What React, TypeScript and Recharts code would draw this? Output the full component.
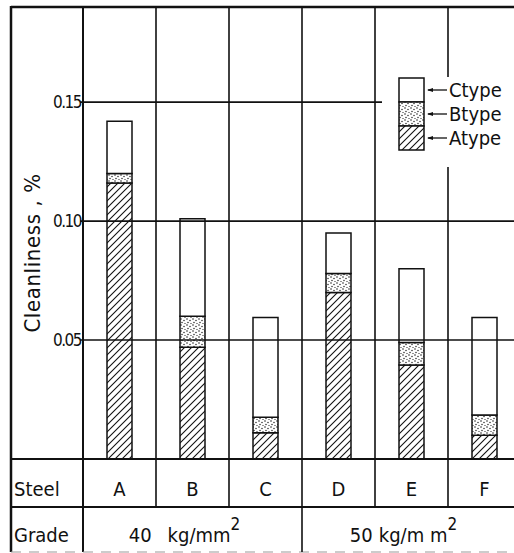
import React from 'react';
import { BarChart, Bar, XAxis, YAxis, Legend } from 'recharts';

// ---- data ----
const steels = ['A', 'B', 'C', 'D', 'E', 'F'];
const aType = [0.116, 0.047, 0.011, 0.070, 0.0395, 0.010];
const bType = [0.004, 0.013, 0.0065, 0.008, 0.0095, 0.0085];
const cType = [0.022, 0.041, 0.042, 0.017, 0.031, 0.041];
const yTicks = [0.05, 0.1, 0.15];
const gradeGroups = [
  { value: '40', unit: 'kg/mm', from: 0, to: 2 },
  { value: '50', unit: 'kg/m m', from: 3, to: 5 },
];
const seriesNames = ['Atype', 'Btype', 'Ctype'];

const data = steels.map((s, i) => ({ steel: s, a: aType[i], b: bType[i], c: cType[i] }));

// ---- layout constants ----
const CHART_W = 521;
const CHART_H = 553;
const MARGIN = { top: 7, right: 0, bottom: 0, left: 0 };
const Y_AXIS_W = 83;
const X_AXIS_H = 94;
const PLOT_LEFT = MARGIN.left + Y_AXIS_W;
const PLOT_TOP = MARGIN.top;
const PLOT_BOTTOM = CHART_H - MARGIN.bottom - X_AXIS_H;
const COL_W = (CHART_W - PLOT_LEFT - MARGIN.right) / steels.length;
const ROW1_BOTTOM = PLOT_BOTTOM + 48;
const TABLE_BOTTOM = CHART_H - 1;
const FRAME_LEFT = 11;
const FONT = "'DejaVu Sans Condensed', 'DejaVu Sans', sans-serif";
const INK = '#111';

const SteelTick = (props: any) => {
  const { x, index, payload } = props;
  const half = COL_W / 2;
  const right = x + half;
  const isLast = index === steels.length - 1;
  const groupEnd = gradeGroups.some((g) => g.to === index) && !isLast;
  const groupStart = gradeGroups.find((g) => g.from === index);
  const legendGap = index === 4;
  return (
    <g>
      <text x={x} y={PLOT_BOTTOM + 37} textAnchor="middle" fontSize={20} fontFamily={FONT} fill={INK}>
        {payload.value}
      </text>
      {!isLast && !legendGap && (
        <line x1={right} x2={right} y1={PLOT_TOP} y2={groupEnd ? TABLE_BOTTOM : ROW1_BOTTOM} stroke={INK} strokeWidth={1.6} />
      )}
      {legendGap && (
        <g>
          <line x1={right} x2={right} y1={PLOT_TOP} y2={77} stroke={INK} strokeWidth={1.6} />
          <line x1={right} x2={right} y1={167} y2={ROW1_BOTTOM} stroke={INK} strokeWidth={1.6} />
        </g>
      )}
      {groupStart && (
        <text
          x={x - half + ((groupStart.to - groupStart.from + 1) * COL_W) / 2 - 8}
          y={ROW1_BOTTOM + 35}
          textAnchor="middle"
          fontSize={20}
          fontFamily={FONT}
          fill={INK}
        >
          {groupStart.value}
          <tspan dx={groupStart.from === 0 ? 16 : 6}>{groupStart.unit}</tspan>
          <tspan dy={-12} fontSize={17}>2</tspan>
        </text>
      )}
      {index === 0 && (
        <g>
          <line x1={FRAME_LEFT} x2={FRAME_LEFT} y1={PLOT_TOP - 1} y2={TABLE_BOTTOM} stroke={INK} strokeWidth={2.5} />
          <line x1={FRAME_LEFT} x2={CHART_W} y1={PLOT_TOP} y2={PLOT_TOP} stroke={INK} strokeWidth={2.5} />
          <line x1={FRAME_LEFT} x2={CHART_W} y1={PLOT_BOTTOM} y2={PLOT_BOTTOM} stroke={INK} strokeWidth={1.8} />
          <line x1={FRAME_LEFT} x2={CHART_W} y1={ROW1_BOTTOM} y2={ROW1_BOTTOM} stroke={INK} strokeWidth={1.8} />
          <line x1={PLOT_LEFT} x2={PLOT_LEFT} y1={PLOT_BOTTOM} y2={TABLE_BOTTOM} stroke={INK} strokeWidth={2} />
          <line x1={FRAME_LEFT} x2={CHART_W} y1={TABLE_BOTTOM} y2={TABLE_BOTTOM} stroke="#999" strokeWidth={1} strokeDasharray="10 8" />
          <text x={FRAME_LEFT + 3} y={PLOT_BOTTOM + 37} fontSize={20} fontFamily={FONT} fill={INK}>Steel</text>
          <text x={FRAME_LEFT + 3} y={ROW1_BOTTOM + 35} fontSize={20} fontFamily={FONT} fill={INK}>Grade</text>
        </g>
      )}
    </g>
  );
};

const YTick = (props: any) => {
  const { y, payload, index } = props;
  const isTop = index === yTicks.length - 1;
  return (
    <g>
      <line x1={PLOT_LEFT - 3} x2={isTop ? PLOT_LEFT + 4 * COL_W + 7 : CHART_W} y1={y} y2={y} stroke={INK} strokeWidth={1.6} />
      <text x={PLOT_LEFT - 2} y={y + 6} textAnchor="end" fontSize={17} letterSpacing={-1.5} fontFamily={FONT} fill={INK}>
        {payload.value.toFixed(2)}
      </text>
    </g>
  );
};

const YLabel = () => (
  <text
    x={32}
    y={253}
    transform="rotate(-90 32 253)"
    textAnchor="middle"
    dominantBaseline="central"
    fontSize={22}
    letterSpacing={0.6}
    fontFamily={FONT}
    fill={INK}
  >
    Cleanliness , %
  </text>
);

const LegendContent = (props: any) => {
  const items = [...(props.payload || [])].reverse();
  const rowH = 24;
  return (
    <svg width={118} height={rowH * items.length + 4} style={{ display: 'block', overflow: 'visible' }}>
      {items.map((it: any, i: number) => (
        <g key={it.value}>
          <rect x={1} y={1 + i * rowH} width={25} height={rowH} fill={it.color} stroke={INK} strokeWidth={1.5} />
          <line x1={30} x2={49} y1={1 + i * rowH + rowH / 2} y2={1 + i * rowH + rowH / 2} stroke={INK} strokeWidth={1.3} />
          <path d={`M29,${1 + i * rowH + rowH / 2} l6,-2 l0,4 z`} fill={INK} />
          <text x={51} y={1 + i * rowH + rowH / 2 + 7} fontSize={20} fontFamily={FONT} fill={INK}>
            {it.value}
          </text>
        </g>
      ))}
    </svg>
  );
};

export default function App() {
  return (
    <div style={{ position: 'fixed', left: 0, top: 0, width: 514, height: 553, overflow: 'hidden', background: '#fff' }}>
      <BarChart width={CHART_W} height={CHART_H} data={data} margin={MARGIN} barCategoryGap={0}>
        <defs>
          <pattern id="hatch" patternUnits="userSpaceOnUse" width={7} height={7}>
            <rect width={7} height={7} fill="#fff" />
            <path d="M0,7 L7,0 M-1,1 L1,-1 M6,8 L8,6" stroke={INK} strokeWidth={1.1} />
          </pattern>
          <pattern id="dots" patternUnits="userSpaceOnUse" width={6} height={6}>
            <rect width={6} height={6} fill="#fff" />
            <circle cx={1} cy={1} r={0.75} fill={INK} />
            <circle cx={4} cy={2.5} r={0.7} fill={INK} />
            <circle cx={2} cy={4.5} r={0.7} fill={INK} />
            <circle cx={5} cy={5.5} r={0.6} fill={INK} />
          </pattern>
        </defs>
        <XAxis
          dataKey="steel"
          height={X_AXIS_H}
          axisLine={false}
          tickLine={false}
          interval={0}
          tick={<SteelTick />}
        />
        <YAxis
          width={Y_AXIS_W}
          domain={[0, 0.19]}
          ticks={yTicks}
          tickLine={false}
          axisLine={{ stroke: INK, strokeWidth: 2 }}
          tick={<YTick />}
          label={<YLabel />}
        />
        <Bar dataKey="a" name={seriesNames[0]} stackId="s" fill="url(#hatch)" stroke={INK} strokeWidth={1.5} barSize={25} isAnimationActive={false} />
        <Bar dataKey="b" name={seriesNames[1]} stackId="s" fill="url(#dots)" stroke={INK} strokeWidth={1.5} barSize={25} isAnimationActive={false} />
        <Bar dataKey="c" name={seriesNames[2]} stackId="s" fill="#fff" stroke={INK} strokeWidth={1.5} barSize={25} isAnimationActive={false} />
        <Legend
          layout="horizontal"
          verticalAlign="middle"
          align="center"
          content={<LegendContent />}
          wrapperStyle={{ position: 'absolute', left: 398, top: 77, width: 120 }}
        />
      </BarChart>
    </div>
  );
}
